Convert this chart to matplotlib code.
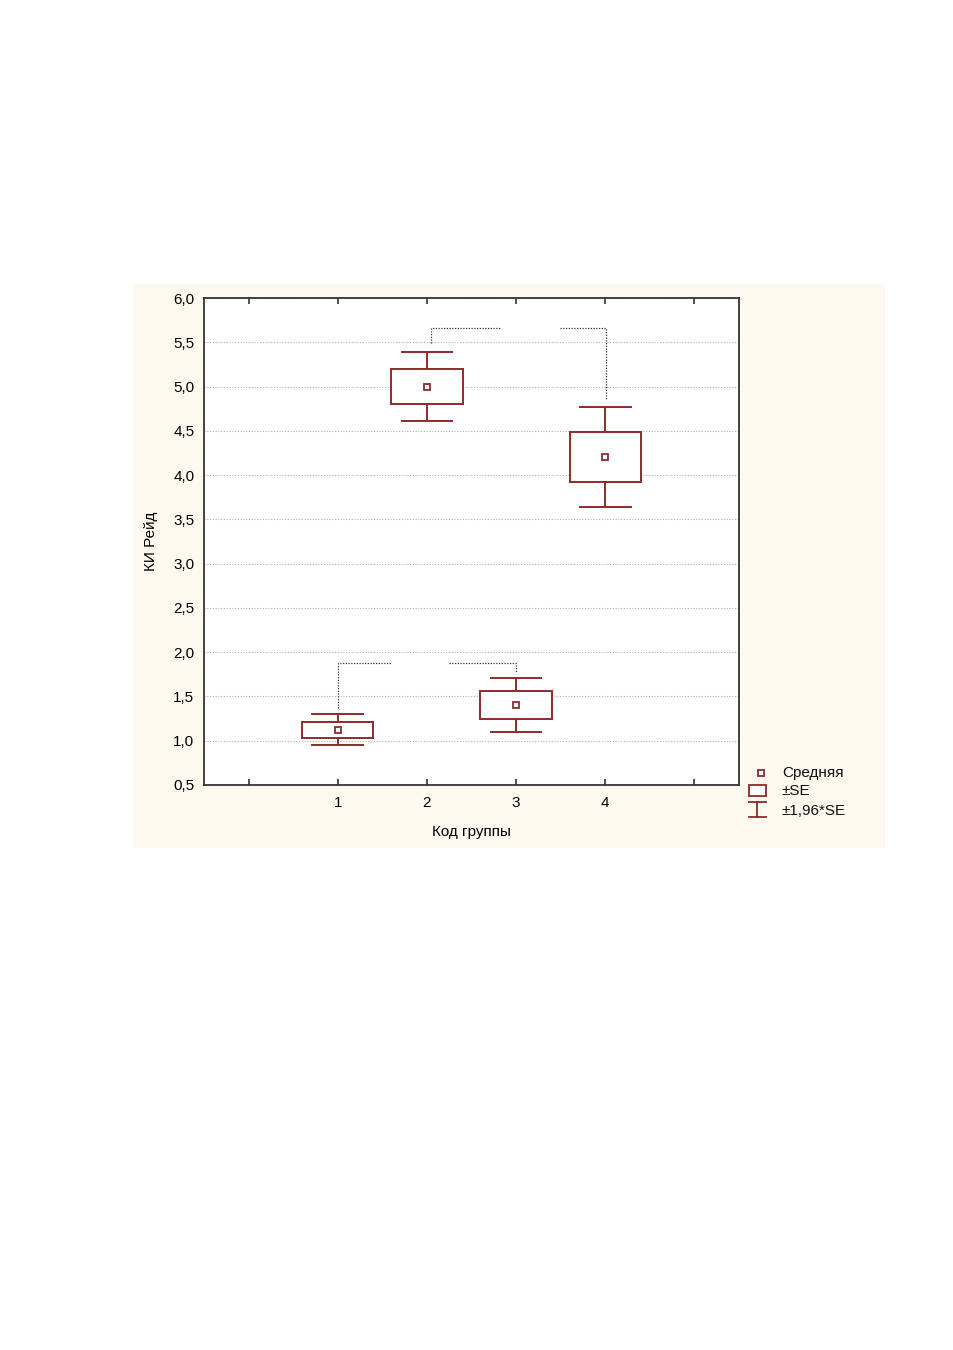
"""
Means with SE boxes and 1.96*SE whiskers per group, STATISTICA style.
"""
import matplotlib
matplotlib.use("Agg")
import matplotlib.pyplot as plt
from matplotlib.patches import Rectangle

plt.rcParams["font.family"] = ["Liberation Sans", "DejaVu Sans"]

# data
groups = [1, 2, 3, 4]
means = [1.123, 5.00, 1.405, 4.205]
se = [0.089, 0.197, 0.157, 0.287]
ci = [1.96 * s for s in se]

ytick_vals = [0.5, 1.0, 1.5, 2.0, 2.5, 3.0, 3.5, 4.0, 4.5, 5.0, 5.5, 6.0]
ytick_labels = ["0,5", "1,0", "1,5", "2,0", "2,5", "3,0", "3,5", "4,0",
                "4,5", "5,0", "5,5", "6,0"]
xtick_vals = [0, 1, 2, 3, 4, 5]
xtick_labels = ["", "1", "2", "3", "4", ""]

# dotted comparison brackets (as drawn in the original, partly broken)
brackets = [
    ([1.0, 1.0, 1.61], [1.37, 1.875, 1.875]),
    ([2.25, 3.0, 3.0], [1.875, 1.875, 1.78]),
    ([2.05, 2.05, 2.82], [5.49, 5.665, 5.665]),
    ([3.49, 4.01, 4.01], [5.665, 5.665, 4.85]),
]

RED = "#8e2b2b"
CREAM = "#fdf9ef"
W, H = 954, 1350
FS = 11

fig = plt.figure(figsize=(W / 100, H / 100), dpi=100)
fig.patch.set_facecolor("white")

# cream panel behind the plot
bg = fig.add_axes([0, 0, 1, 1], zorder=-1)
bg.set_xlim(0, W)
bg.set_ylim(H, 0)
bg.axis("off")
bg.add_patch(Rectangle((133, 284), 752, 564, facecolor=CREAM, edgecolor="none"))

ax = fig.add_axes([204 / W, 1 - 785 / H, 535 / W, 487 / H])
ax.set_facecolor("white")

box_w = 0.8
cap_w = 0.57
for g, m, s, c in zip(groups, means, se, ci):
    ax.add_patch(Rectangle((g - box_w / 2, m - s), box_w, 2 * s, facecolor="white",
                           edgecolor=RED, linewidth=1.4, zorder=3))
    ax.plot([g, g], [m + s, m + c], color=RED, linewidth=1.4, zorder=3)
    ax.plot([g, g], [m - s, m - c], color=RED, linewidth=1.4, zorder=3)
    ax.plot([g - cap_w / 2, g + cap_w / 2], [m + c, m + c], color=RED,
            linewidth=1.4, zorder=3)
    ax.plot([g - cap_w / 2, g + cap_w / 2], [m - c, m - c], color=RED,
            linewidth=1.4, zorder=3)
ax.plot(groups, means, linestyle="none", marker="s", markersize=5,
        markerfacecolor="white", markeredgecolor=RED, markeredgewidth=1.3, zorder=4)

for bx, by in brackets:
    ax.plot(bx, by, color="#333333", linestyle=(0, (1, 1.2)), linewidth=0.9, zorder=2)

ax.set_xlim(-0.5, 5.5)
ax.set_ylim(0.5, 6.0)
ax.set_xticks(xtick_vals)
ax.set_xticklabels(xtick_labels)
ax.set_yticks(ytick_vals)
ax.set_yticklabels(ytick_labels)
ax.tick_params(axis="x", direction="in", length=4, width=1.2, top=True,
               labelsize=FS, pad=8, color="#333333")
ax.tick_params(axis="y", length=0, labelsize=FS, pad=7)
ax.grid(axis="y", color="#b0b0b0", linestyle=(0, (1, 1.5)), linewidth=0.8)
ax.set_axisbelow(True)
for sp in ax.spines.values():
    sp.set_color("#333333")
    sp.set_linewidth(1.3)

ax.set_xlabel("Код группы", fontsize=FS, labelpad=11)
ax.set_ylabel("КИ Рейд", fontsize=FS, labelpad=11)

# legend drawn in pixel space, outside the axes
lg = fig.add_axes([0, 0, 1, 1], zorder=5)
lg.set_xlim(0, W)
lg.set_ylim(H, 0)
lg.axis("off")
lg.plot([761], [772.5], marker="s", markersize=5, markerfacecolor="white",
        markeredgecolor=RED, markeredgewidth=1.3, linestyle="none")
lg.add_patch(Rectangle((749, 785), 17, 11, facecolor="white", edgecolor=RED,
                       linewidth=1.3))
lg.plot([749, 766], [802, 802], color=RED, linewidth=1.3)
lg.plot([749, 766], [817, 817], color=RED, linewidth=1.3)
lg.plot([757.5, 757.5], [802, 817], color=RED, linewidth=1.3)
for ty, txt in [(772.5, "Средняя"), (791, "±SE"), (811, "±1,96*SE")]:
    lg.text(782, ty, txt, fontsize=FS, va="center", ha="left", color="#111111")

fig.savefig("out.png", dpi=100, facecolor="white")
